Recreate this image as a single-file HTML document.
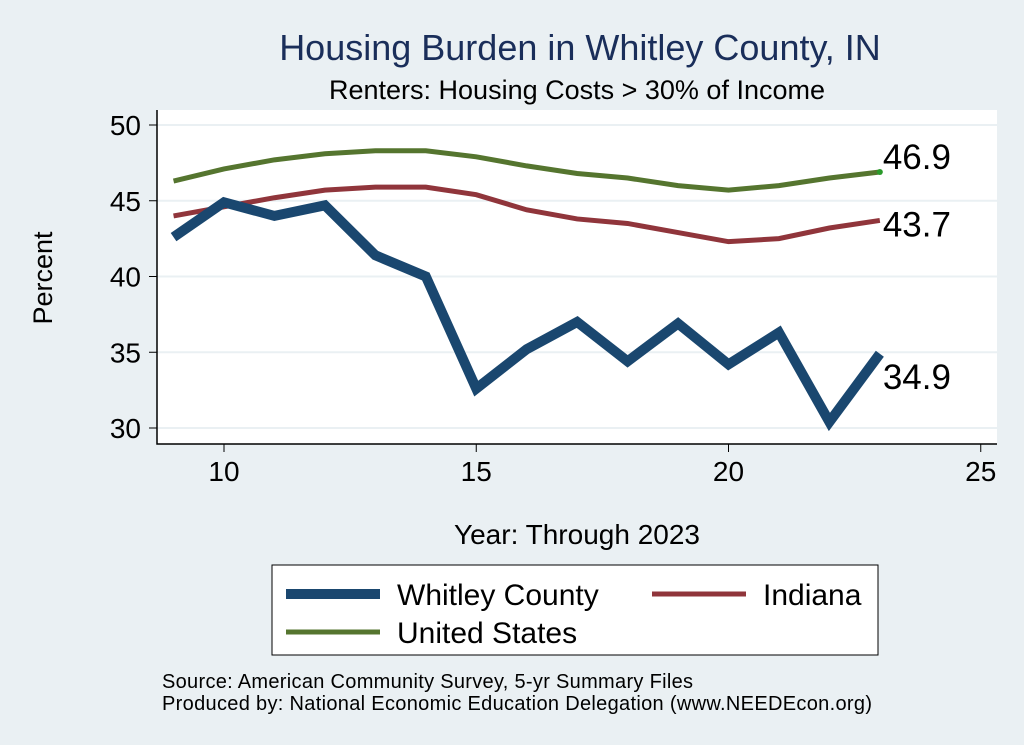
<!DOCTYPE html>
<html><head><meta charset="utf-8"><style>
body{margin:0;background:#eaf0f3;}
svg{display:block;font-family:"Liberation Sans",sans-serif;}
</style></head><body>
<svg width="1024" height="745">
<rect x="0" y="0" width="1024" height="745" fill="#eaf0f3"/>
<rect x="157" y="110" width="840" height="334" fill="#fff"/>
<text x="580" y="60" font-size="36" fill="#1a2e5a" text-anchor="middle">Housing Burden in Whitley County, IN</text>
<text x="577" y="99" font-size="27" text-anchor="middle">Renters: Housing Costs &gt; 30% of Income</text>
<g id="grid"></g><g id="axes"></g><g id="series"></g>
<text x="52" y="278" font-size="27" text-anchor="middle" transform="rotate(-90 52 278)">Percent</text>
<text x="577" y="544" font-size="28" text-anchor="middle">Year: Through 2023</text>
<g>
<rect x="272" y="565" width="606" height="90" fill="#fff" stroke="#000" stroke-width="1"/>
<line x1="286" y1="594" x2="380" y2="594" stroke="#1a476f" stroke-width="10"/>
<text x="397" y="605" font-size="30">Whitley County</text>
<line x1="652" y1="594" x2="746" y2="594" stroke="#90353b" stroke-width="5"/>
<text x="763" y="605" font-size="30">Indiana</text>
<line x1="286" y1="632" x2="380" y2="632" stroke="#55752f" stroke-width="5"/>
<text x="397" y="643" font-size="30">United States</text>
</g>
<text x="162" y="688" font-size="20" textLength="531">Source: American Community Survey, 5-yr Summary Files</text>
<text x="162" y="710" font-size="20" textLength="710">Produced by: National Economic Education Delegation (www.NEEDEcon.org)</text>
</svg>
<script>
const years=[9,10,11,12,13,14,15,16,17,18,19,20,21,22,23];
const whitley=[42.6,44.9,44.0,44.7,41.4,40.0,32.6,35.2,37.0,34.4,36.9,34.2,36.3,30.4,34.9];
const indiana=[44.0,44.6,45.2,45.7,45.9,45.9,45.4,44.4,43.8,43.5,42.9,42.3,42.5,43.2,43.7];
const us=[46.3,47.1,47.7,48.1,48.3,48.3,47.9,47.3,46.8,46.5,46.0,45.7,46.0,46.5,46.9];
const xTicks=[10,15,20,25];
const yTicks=[30,35,40,45,50];
const NS="http://www.w3.org/2000/svg";
const xs=v=>224+(v-10)*50.45;
const ys=v=>428-(v-30)*15.15;
function mk(tag,attrs,parent){const e=document.createElementNS(NS,tag);for(const k in attrs)e.setAttribute(k,attrs[k]);document.getElementById(parent).appendChild(e);return e;}
yTicks.forEach(t=>{
 const g=mk('line',{x1:157,x2:997,y1:ys(t),y2:ys(t),stroke:'#eaf0f3','stroke-width':2},'grid');
 
 
 const tk=mk('line',{x1:149,x2:157,y1:ys(t),y2:ys(t),stroke:'#000'},'axes');
 
 
 const l=mk('text',{x:141,y:ys(t)+10,'font-size':28,'text-anchor':'end'},'axes');l.textContent=t;
 
 
});
xTicks.forEach(t=>{
 const tk=mk('line',{x1:xs(t),x2:xs(t),y1:444,y2:452,stroke:'#000'},'axes');
 
 
 const l=mk('text',{x:xs(t),y:481,'font-size':28,'text-anchor':'middle'},'axes');l.textContent=t;
 
 
});
const ax=mk('path',{d:'M157 110 V444 H997',fill:'none',stroke:'#000','stroke-width':1.5},'axes');


function line(vals,color,w,name,dy){
 const d=vals.map((v,i)=>(i?'L':'M')+xs(years[i])+' '+ys(v)).join(' ');
 const p=mk('path',{d:d,fill:'none',stroke:color,'stroke-width':w,'stroke-linejoin':'miter'},'series');
 
 
 const last=vals[vals.length-1];
 const t=mk('text',{x:xs(years[years.length-1])+3,y:ys(last)+dy,'font-size':35},'series');t.textContent=last.toFixed(1);
 
 
}
line(us,'#55752f',5,'us-line',-3);
line(indiana,'#90353b',5,'indiana-line',16);
line(whitley,'#1a476f',10,'whitley-line',35);
const dot=mk('circle',{cx:xs(23),cy:ys(us[us.length-1]),r:3,fill:'#2a9a2a'},'series');


</script>
</body></html>
